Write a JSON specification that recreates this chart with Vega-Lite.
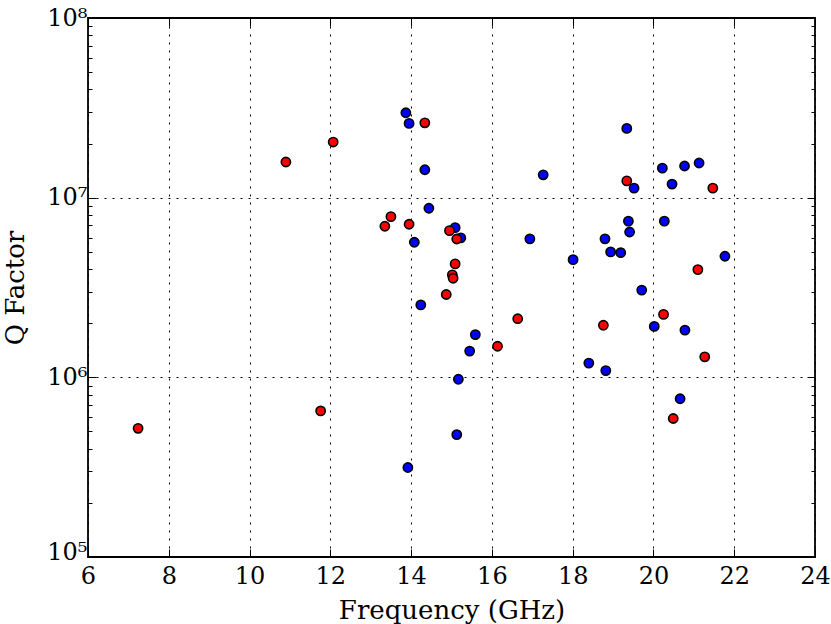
{
  "$schema": "https://vega.github.io/schema/vega-lite/v6.json",
  "width": 727,
  "height": 539,
  "autosize": "none",
  "padding": {"left": 88, "top": 18, "right": 16, "bottom": 67},
  "background": "white",
  "config": {
    "view": {"stroke": "black", "strokeWidth": 1.8},
    "font": "DejaVu Serif",
    "axis": {"labelFont": "DejaVu Serif", "titleFont": "DejaVu Serif", "titleFontWeight": "normal", "labelColor": "black", "titleColor": "black", "tickColor": "black", "domain": false, "labelFlush": false, "labelOverlap": false, "labelBound": false}
  },
  "data": {
    "values": [
      {"freq": 13.87, "q": 29700000, "group": "b"},
      {"freq": 13.95, "q": 25900000, "group": "b"},
      {"freq": 14.34, "q": 14300000, "group": "b"},
      {"freq": 14.44, "q": 8730000, "group": "b"},
      {"freq": 15.09, "q": 6810000, "group": "b"},
      {"freq": 15.23, "q": 5970000, "group": "b"},
      {"freq": 14.08, "q": 5650000, "group": "b"},
      {"freq": 14.24, "q": 2530000, "group": "b"},
      {"freq": 15.59, "q": 1730000, "group": "b"},
      {"freq": 15.45, "q": 1400000, "group": "b"},
      {"freq": 15.17, "q": 976000, "group": "b"},
      {"freq": 15.13, "q": 480000, "group": "b"},
      {"freq": 13.92, "q": 315000, "group": "b"},
      {"freq": 16.94, "q": 5900000, "group": "b"},
      {"freq": 17.27, "q": 13400000, "group": "b"},
      {"freq": 18.01, "q": 4520000, "group": "b"},
      {"freq": 18.40, "q": 1200000, "group": "b"},
      {"freq": 18.82, "q": 1090000, "group": "b"},
      {"freq": 18.80, "q": 5900000, "group": "b"},
      {"freq": 18.94, "q": 4990000, "group": "b"},
      {"freq": 19.19, "q": 4940000, "group": "b"},
      {"freq": 19.34, "q": 24300000, "group": "b"},
      {"freq": 19.38, "q": 7400000, "group": "b"},
      {"freq": 19.41, "q": 6440000, "group": "b"},
      {"freq": 19.52, "q": 11300000, "group": "b"},
      {"freq": 19.71, "q": 3060000, "group": "b"},
      {"freq": 20.02, "q": 1920000, "group": "b"},
      {"freq": 20.22, "q": 14600000, "group": "b"},
      {"freq": 20.27, "q": 7400000, "group": "b"},
      {"freq": 20.46, "q": 11900000, "group": "b"},
      {"freq": 20.77, "q": 15000000, "group": "b"},
      {"freq": 21.13, "q": 15600000, "group": "b"},
      {"freq": 20.78, "q": 1830000, "group": "b"},
      {"freq": 20.66, "q": 760000, "group": "b"},
      {"freq": 21.77, "q": 4720000, "group": "b"},
      {"freq": 7.24, "q": 520000, "group": "r"},
      {"freq": 11.76, "q": 650000, "group": "r"},
      {"freq": 10.90, "q": 15800000, "group": "r"},
      {"freq": 12.07, "q": 20400000, "group": "r"},
      {"freq": 13.35, "q": 6930000, "group": "r"},
      {"freq": 13.50, "q": 7840000, "group": "r"},
      {"freq": 13.95, "q": 7110000, "group": "r"},
      {"freq": 14.34, "q": 26100000, "group": "r"},
      {"freq": 14.95, "q": 6550000, "group": "r"},
      {"freq": 15.13, "q": 5890000, "group": "r"},
      {"freq": 15.09, "q": 4280000, "group": "r"},
      {"freq": 15.02, "q": 3720000, "group": "r"},
      {"freq": 15.04, "q": 3560000, "group": "r"},
      {"freq": 14.87, "q": 2890000, "group": "r"},
      {"freq": 16.14, "q": 1490000, "group": "r"},
      {"freq": 16.64, "q": 2120000, "group": "r"},
      {"freq": 18.76, "q": 1950000, "group": "r"},
      {"freq": 19.34, "q": 12400000, "group": "r"},
      {"freq": 20.25, "q": 2240000, "group": "r"},
      {"freq": 21.10, "q": 3980000, "group": "r"},
      {"freq": 21.27, "q": 1300000, "group": "r"},
      {"freq": 21.47, "q": 11300000, "group": "r"},
      {"freq": 20.49, "q": 590000, "group": "r"}
    ]
  },
  "layer": [
    {
      "mark": {"type": "circle", "size": 85, "opacity": 1, "stroke": "black", "strokeWidth": 1.6},
      "encoding": {
        "x": {
          "field": "freq", "type": "quantitative",
          "scale": {"domain": [6, 24], "nice": false},
          "axis": {
            "orient": "bottom", "title": "Frequency (GHz)", "values": [6, 8, 10, 12, 14, 16, 18, 20, 22, 24],
            "labelFontSize": 24, "titleFontSize": 26, "labelPadding": 15, "titlePadding": 9,
            "tickSize": -8, "tickWidth": 1,
            "grid": true, "gridColor": "black", "gridDash": [2, 6], "gridWidth": 1
          }
        },
        "y": {
          "field": "q", "type": "quantitative",
          "scale": {"type": "log", "domain": [100000, 100000000], "nice": false},
          "axis": {
            "orient": "left", "title": "Q Factor",
            "values": [100000, 200000, 300000, 400000, 500000, 600000, 700000, 800000, 900000, 1000000, 2000000, 3000000, 4000000, 5000000, 6000000, 7000000, 8000000, 9000000, 10000000, 20000000, 30000000, 40000000, 50000000, 60000000, 70000000, 80000000, 90000000, 100000000],
            "labelExpr": "datum.value == 100000 ? '10⁵' : datum.value == 1000000 ? '10⁶' : datum.value == 10000000 ? '10⁷' : datum.value == 100000000 ? '10⁸' : ''",
            "labelFontSize": 24, "titleFontSize": 26, "labelPadding": 9, "titlePadding": 18,
            "labelOffset": {"condition": {"test": "datum.value == 100000", "value": -5}, "value": 0},
            "tickSize": {"condition": {"test": "datum.value == 100000 || datum.value == 1000000 || datum.value == 10000000 || datum.value == 100000000", "value": -8}, "value": -4},
            "tickWidth": 1,
            "grid": true, "gridColor": "black", "gridDash": [2, 6], "gridWidth": 1,
            "gridOpacity": {"condition": {"test": "datum.value == 1000000 || datum.value == 10000000", "value": 1}, "value": 0}
          }
        },
        "fill": {"field": "group", "type": "nominal", "scale": {"domain": ["b", "r"], "range": ["#0000ff", "#ff0000"]}, "legend": null}
      }
    },
    {
      "mark": {"type": "circle", "opacity": 0},
      "encoding": {
        "x": {
          "field": "freq", "type": "quantitative",
          "axis": {"orient": "top", "title": null, "labels": false, "values": [6, 8, 10, 12, 14, 16, 18, 20, 22, 24], "tickSize": -8, "tickWidth": 1, "grid": false}
        },
        "y": {
          "field": "q", "type": "quantitative",
          "axis": {
            "orient": "right", "title": null, "labels": false, "grid": false,
            "values": [100000, 200000, 300000, 400000, 500000, 600000, 700000, 800000, 900000, 1000000, 2000000, 3000000, 4000000, 5000000, 6000000, 7000000, 8000000, 9000000, 10000000, 20000000, 30000000, 40000000, 50000000, 60000000, 70000000, 80000000, 90000000, 100000000],
            "tickSize": {"condition": {"test": "datum.value == 100000 || datum.value == 1000000 || datum.value == 10000000 || datum.value == 100000000", "value": -8}, "value": -4},
            "tickWidth": 1
          }
        }
      }
    }
  ],
  "resolve": {"axis": {"x": "independent", "y": "independent"}}
}
